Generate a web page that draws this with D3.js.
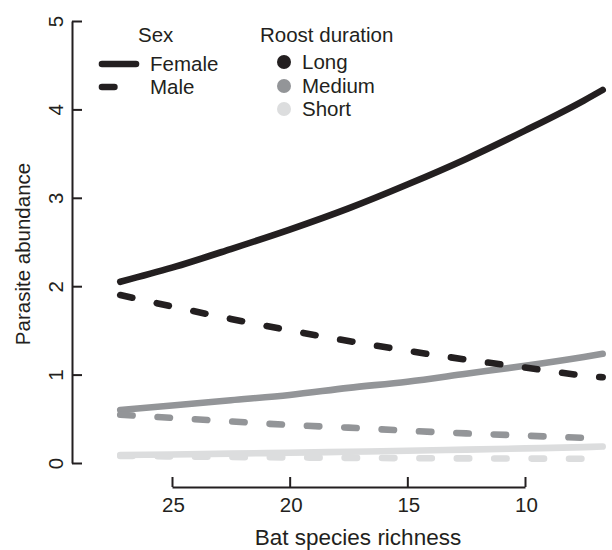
<!DOCTYPE html>
<html>
<head>
<meta charset="utf-8">
<script src="https://cdn.jsdelivr.net/npm/d3@7"></script>
<style>
  html, body { margin: 0; padding: 0; background: #fff; }
  svg { display: block; }
  text { font-family: "Liberation Sans", Arial, Helvetica, sans-serif; fill: #231f20; }
</style>
</head>
<body>
<svg id="chart" width="612" height="550"></svg>
<script>
// ---- data ----
const richness = [27.2, 25, 22.5, 20, 17.5, 15, 12.5, 10, 7.5, 6.7];
const femaleLong   = [2.05, 2.21, 2.42, 2.64, 2.88, 3.15, 3.44, 3.76, 4.10, 4.22];
const maleLong     = [1.90, 1.77, 1.63, 1.50, 1.38, 1.27, 1.17, 1.08, 0.99, 0.97];
const femaleMedium = [0.60, 0.65, 0.71, 0.77, 0.85, 0.92, 1.01, 1.10, 1.20, 1.235];
const maleMedium   = [0.545, 0.51, 0.47, 0.43, 0.40, 0.365, 0.335, 0.31, 0.285, 0.28];
const femaleShort  = [0.09, 0.097, 0.106, 0.116, 0.127, 0.138, 0.151, 0.165, 0.18, 0.186];
const maleShort    = [0.08, 0.074, 0.068, 0.063, 0.058, 0.055, 0.052, 0.05, 0.048, 0.047];
const xTicks = [25, 20, 15, 10];
const yTicks = [0, 1, 2, 3, 4, 5];
const sexLabels = ["Female", "Male"];
const roostLabels = ["Long", "Medium", "Short"];

// ---- styles ----
const colors = { Long: "#231f20", Medium: "#939598", Short: "#dcddde" };
const dash = "12.4,25";
const lw = 6.6;
const fs = "20.5px";

const svg = d3.select("#chart");
const x = d3.scaleLinear().domain([25, 10]).range([172, 525]);
const y = d3.scaleLinear().domain([0, 5]).range([463, 21]);

const series = [
  { roost: "Short",  sex: "Female", vals: femaleShort },
  { roost: "Short",  sex: "Male",   vals: maleShort },
  { roost: "Medium", sex: "Female", vals: femaleMedium },
  { roost: "Medium", sex: "Male",   vals: maleMedium },
  { roost: "Long",   sex: "Female", vals: femaleLong },
  { roost: "Long",   sex: "Male",   vals: maleLong }
];

const line = d3.line()
  .x(d => x(d[0]))
  .y(d => y(d[1]))
  .curve(d3.curveMonotoneX);

svg.append("g").selectAll("path")
  .data(series)
  .join("path")
  .attr("d", s => line(richness.map((r, i) => [r, s.vals[i]])))
  .attr("fill", "none")
  .attr("stroke", s => colors[s.roost])
  .attr("stroke-width", lw)
  .attr("stroke-linecap", "round")
  .attr("stroke-linejoin", "round")
  .attr("stroke-dasharray", s => s.sex === "Male" ? dash : null);

// ---- x axis ----
const gx = svg.append("g")
  .attr("transform", "translate(0,487)")
  .call(d3.axisBottom(x).tickValues(xTicks).tickSize(-10).tickSizeOuter(0).tickFormat(d3.format("d")));
gx.select(".domain").attr("stroke", "#231f20").attr("stroke-width", 2);
gx.selectAll(".tick line").attr("stroke", "#231f20").attr("stroke-width", 2);
gx.selectAll(".tick text")
  .attr("y", 25).attr("dy", 0)
  .attr("x", 1)
  .style("font-size", fs).attr("fill", "#231f20");

// ---- y axis ----
const gy = svg.append("g")
  .attr("transform", "translate(72,0)")
  .call(d3.axisLeft(y).tickValues(yTicks).tickSize(-10).tickSizeOuter(0).tickFormat(d3.format("d")));
gy.select(".domain").attr("stroke", "#231f20").attr("stroke-width", 2);
gy.selectAll(".tick line").attr("stroke", "#231f20").attr("stroke-width", 2);
gy.selectAll(".tick text")
  .attr("x", 0).attr("y", 0).attr("dy", 0)
  .attr("text-anchor", "middle")
  .attr("transform", "translate(-9,0) rotate(-90)")
  .style("font-size", fs).attr("fill", "#231f20");

// ---- axis titles ----
svg.append("text")
  .attr("x", 358).attr("y", 545)
  .attr("text-anchor", "middle")
  .style("font-size", "22.5px")
  .text("Bat species richness");

svg.append("text")
  .attr("transform", "translate(30,254) rotate(-90)")
  .attr("text-anchor", "middle")
  .style("font-size", fs)
  .text("Parasite abundance");

// ---- legend: sex ----
const lg = svg.append("g");
lg.append("text").attr("x", 138).attr("y", 42).style("font-size", fs).text("Sex");
const sexY = [64, 87];
sexLabels.forEach((s, i) => {
  lg.append("line")
    .attr("x1", 102).attr("x2", 136)
    .attr("y1", sexY[i]).attr("y2", sexY[i])
    .attr("stroke", colors.Long)
    .attr("stroke-width", lw)
    .attr("stroke-linecap", "round")
    .attr("stroke-dasharray", s === "Male" ? dash : null);
  lg.append("text").attr("x", 150).attr("y", sexY[i] + 7.3).style("font-size", fs).text(s);
});

// ---- legend: roost duration ----
lg.append("text").attr("x", 260).attr("y", 42).style("font-size", fs).text("Roost duration");
const roostY = [62, 86, 109];
roostLabels.forEach((r, i) => {
  lg.append("circle").attr("cx", 284).attr("cy", roostY[i]).attr("r", 7).attr("fill", colors[r]);
  lg.append("text").attr("x", 302).attr("y", roostY[i] + 7.3).style("font-size", fs).text(r);
});
</script>
</body>
</html>
